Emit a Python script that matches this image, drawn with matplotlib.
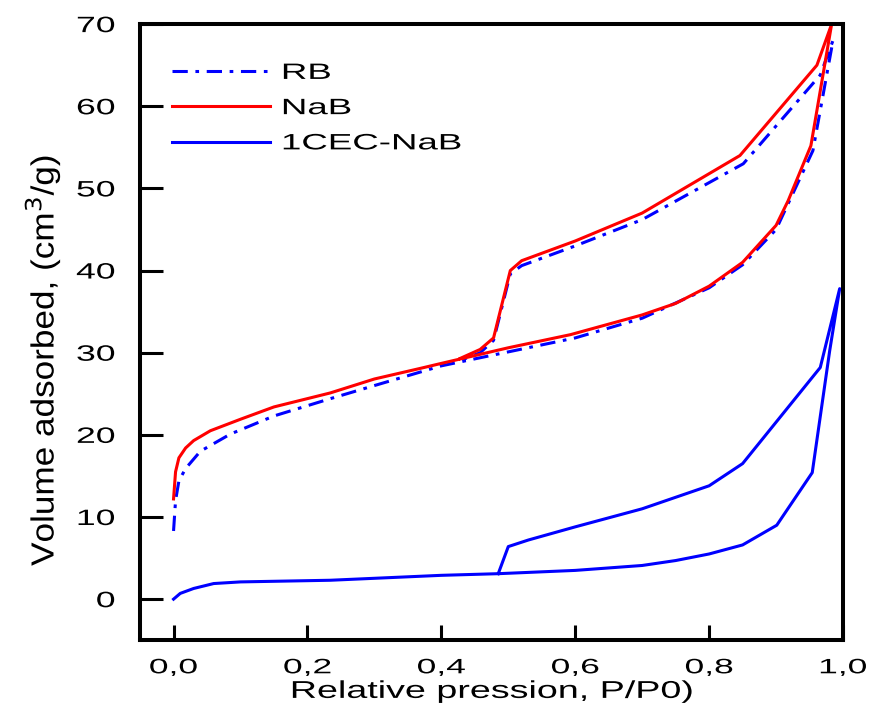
import matplotlib
matplotlib.use('Agg')
import matplotlib.pyplot as plt
from matplotlib.patheffects import AbstractPathEffect
from matplotlib.transforms import Affine2D

plt.rcParams['font.family'] = ['Liberation Sans', 'DejaVu Sans']

# RB: adsorption then desorption branch
rb_x = [0.0, 0.003, 0.008, 0.018, 0.04, 0.085, 0.15, 0.234, 0.3, 0.4, 0.5, 0.6, 0.7, 0.8, 0.85, 0.9, 0.955, 0.985,
        0.966, 0.851, 0.7, 0.6, 0.52, 0.503, 0.478, 0.458, 0.43]
rb_y = [8.3, 12.0, 14.4, 15.9, 18.0, 20.1, 22.3, 24.4, 26.0, 28.4, 30.1, 31.8, 34.2, 37.9, 40.7, 45.0, 54.6, 68.0,
        63.8, 53.0, 46.2, 43.0, 40.6, 39.6, 31.5, 30.0, 29.1]

# NaB
nab_x = [0.0, 0.003, 0.008, 0.018, 0.03, 0.055, 0.1, 0.15, 0.234, 0.3, 0.369, 0.4, 0.5, 0.593, 0.7, 0.75, 0.8, 0.85,
         0.9, 0.918, 0.952, 0.983,
         0.961, 0.846, 0.7, 0.6, 0.52, 0.503, 0.478, 0.458, 0.428]
nab_y = [12.2, 15.5, 17.2, 18.4, 19.3, 20.5, 21.9, 23.4, 25.1, 26.8, 28.1, 28.7, 30.6, 32.2, 34.6, 36.0, 38.1, 41.0,
         45.5, 48.5, 55.2, 70.0,
         65.0, 54.0, 47.0, 43.6, 41.2, 40.0, 31.8, 30.4, 29.3]

# 1CEC-NaB
cec_x = [0.0, 0.01, 0.03, 0.06, 0.1, 0.234, 0.4, 0.485, 0.6, 0.7, 0.75, 0.8, 0.85, 0.901, 0.954, 0.98, 0.995,
         0.966, 0.85, 0.8, 0.7, 0.6, 0.53, 0.5, 0.485]
cec_y = [0.0, 0.7, 1.3, 1.9, 2.1, 2.3, 2.9, 3.1, 3.5, 4.1, 4.7, 5.5, 6.6, 9.0, 15.4, 30.2, 37.8,
         28.2, 16.5, 13.8, 11.0, 8.8, 7.2, 6.4, 3.1]

xticks = [0.0, 0.2, 0.4, 0.6, 0.8, 1.0]
xtick_labels = ['0,0', '0,2', '0,4', '0,6', '0,8', '1,0']
yticks = [0, 10, 20, 30, 40, 50, 60, 70]


class Stretch(AbstractPathEffect):
    """Scale the glyph outlines about one edge (or the centre) of the text."""

    def __init__(self, sx=1.0, sy=1.0, anchor='center'):
        super().__init__()
        self.sx, self.sy, self.anchor = sx, sy, anchor

    def draw_path(self, renderer, gc, tpath, affine, rgbFace=None):
        ext = tpath.transformed(affine).get_extents()
        if self.anchor == 'left':
            cx = ext.x0
        elif self.anchor == 'right':
            cx = ext.x1
        else:
            cx = 0.5 * (ext.x0 + ext.x1)
        cy = 0.5 * (ext.y0 + ext.y1)
        t = affine + Affine2D().translate(-cx, -cy).scale(self.sx, self.sy).translate(cx, cy)
        renderer.draw_path(gc, tpath, t, rgbFace)


fig = plt.figure(figsize=(8.7, 7.09), dpi=100)
ax = fig.add_axes([0.161, 0.097, 0.808, 0.869])

l1, = ax.plot(rb_x, rb_y, color='#0000ff', lw=2.2, label='RB')
l1.set_dashes([5, 2.5, 1.2, 2.5])
ax.plot(nab_x, nab_y, color='#ff0000', lw=2.2, label='NaB')
ax.plot(cec_x, cec_y, color='#0000ff', lw=2.2, label='1CEC-NaB')

ax.set_xlim(-0.05, 1.0)
ax.set_ylim(-5, 70)
ax.set_xticks(xticks)
ax.set_xticklabels(xtick_labels)
ax.set_yticks(yticks)
ax.tick_params(axis='x', direction='in', length=11, width=2.2, labelsize=15, pad=13)
ax.tick_params(axis='y', direction='in', length=16.5, width=2.2, labelsize=16, pad=18)
for s in ax.spines.values():
    s.set_linewidth(2.9)

for lab in ax.get_xticklabels():
    lab.set_path_effects([Stretch(1.7)])
for lab in ax.get_yticklabels():
    lab.set_path_effects([Stretch(1.6, anchor='right')])

ax.set_xlabel('Relative pression, P/P0)', fontsize=17.5)
ax.xaxis.set_label_coords(0.5, -0.066)
ax.xaxis.label.set_path_effects([Stretch(1.55)])

ax.set_ylabel('Volume adsorbed, (cm$^{3}$/g)', fontsize=23)
ax.yaxis.set_label_coords(-0.11, 0.455)
ax.yaxis.label.set_path_effects([Stretch(1.0, 1.1)])

leg = ax.legend(loc='upper left', frameon=False, fontsize=16, handlelength=4.4,
                handletextpad=0.55, labelspacing=0.64, borderpad=0, borderaxespad=0,
                bbox_to_anchor=(0.0455, 0.937))
for t in leg.get_texts():
    t.set_path_effects([Stretch(1.65, anchor='left')])

fig.savefig('out.png', dpi=100)
